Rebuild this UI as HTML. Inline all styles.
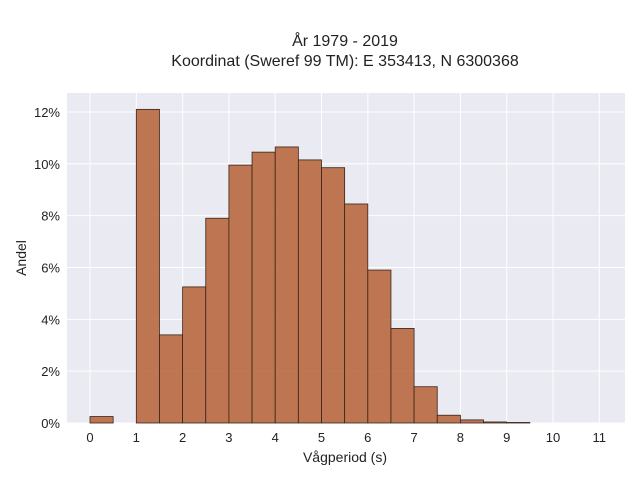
<!DOCTYPE html>
<html><head><meta charset="utf-8"><style>
body{margin:0;background:#fff;font-family:"Liberation Sans",sans-serif}
svg text{font-family:"Liberation Sans",sans-serif;fill:#222}
</style></head><body>
<svg id="c" width="640" height="480">
<text x="345" y="46" text-anchor="middle" font-size="16">År 1979 - 2019</text>
<text x="345" y="66" text-anchor="middle" font-size="16">Koordinat (Sweref 99 TM): E 353413, N 6300368</text>
<rect x="67" y="93" width="558" height="330" fill="#eaeaf2"/>
<g id="grid"></g><g id="bars"></g><g id="ticks"></g>
<text x="345" y="462" text-anchor="middle" font-size="14">Vågperiod (s)</text>
<text transform="translate(26,258) rotate(-90)" text-anchor="middle" font-size="14">Andel</text>
</svg>
<script>
const binStarts=[0,0.5,1,1.5,2,2.5,3,3.5,4,4.5,5,5.5,6,6.5,7,7.5,8,8.5,9];
const shares=[0.25,0,12.1,3.4,5.25,7.9,9.95,10.45,10.65,10.15,9.85,8.45,5.9,3.65,1.4,0.3,0.12,0.04,0.02];
const xTicks=[0,1,2,3,4,5,6,7,8,9,10,11];
const yTicks=[0,2,4,6,8,10,12];
const binWidth=0.5;
const NS="http://www.w3.org/2000/svg";
const xs=v=>90+v*46.3, ys=v=>423-v*25.92;
const grid=document.getElementById('grid'),bars=document.getElementById('bars'),ticks=document.getElementById('ticks');
function mk(tag,attrs,parent){const e=document.createElementNS(NS,tag);for(const k in attrs)e.setAttribute(k,attrs[k]);parent.appendChild(e);return e;}
xTicks.forEach(t=>{
 const l=mk('line',{x1:xs(t),x2:xs(t),y1:93,y2:423,stroke:'#fff','stroke-width':1},grid);
 
 
 const tx=mk('text',{x:xs(t),y:442,'text-anchor':'middle','font-size':13},ticks);
 tx.textContent=t;
 
 
});
yTicks.forEach(t=>{
 const l=mk('line',{x1:67,x2:625,y1:ys(t),y2:ys(t),stroke:'#fff','stroke-width':1},grid);
 
 
 const tx=mk('text',{x:60,y:ys(t)+5,'text-anchor':'end','font-size':13},ticks);
 tx.textContent=t+'%';
 
 
});
binStarts.forEach((b,i)=>{
 if(shares[i]<=0)return;
 const r=mk('rect',{x:xs(b),y:ys(shares[i]),width:xs(b+binWidth)-xs(b),height:ys(0)-ys(shares[i]),fill:'#b8693f','fill-opacity':0.9,stroke:'#3a2418','stroke-width':0.8},bars);
 
 
});
</script>
</body></html>
